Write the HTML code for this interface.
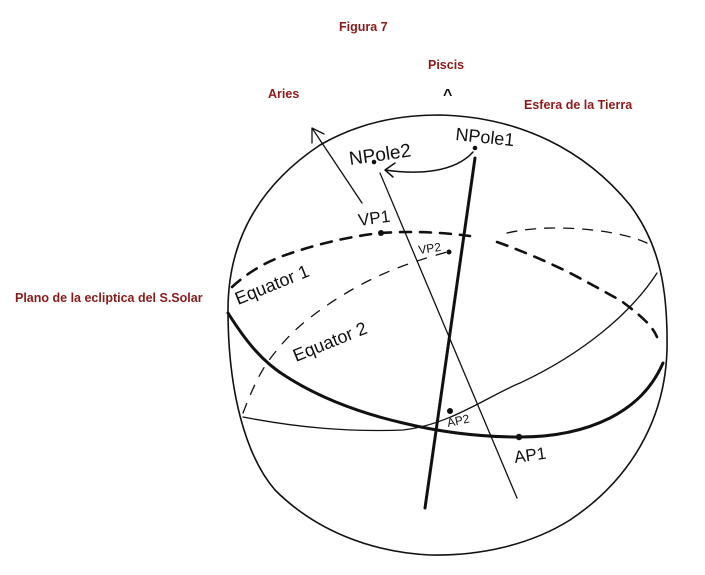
<!DOCTYPE html>
<html><head><style>
body{margin:0;width:705px;height:575px;background:#fff;overflow:hidden}
svg{display:block}
.r{font-family:"Liberation Sans",sans-serif;font-weight:bold;font-size:12.5px;fill:#8b1a1a}
.h{font-family:"Liberation Sans",sans-serif;fill:#111}
</style></head><body>
<svg width="705" height="575" viewBox="0 0 705 575">
<g fill="none" stroke="#111" stroke-linecap="round">
<path stroke-width="1.6" d="M228,310 C228,240 260,185 320,145 C360,122 400,115 440,115 C520,117 585,150 630,205 C660,245 668,290 667,350 C665,420 630,480 570,520 C530,545 480,556 430,555 C370,552 315,530 275,490 C245,455 228,390 228,310 Z"/>
<path stroke-width="3" d="M228,313 C245,340 262,362 287,377 C320,398 360,413 403,423 C440,432 480,437 520,437 C560,437 590,428 610,418 C635,405 652,388 663,363"/>
<path stroke-width="1.3" d="M243,417 C300,428 350,432 403,430 C450,425 490,395 520,383 C580,355 630,315 657,273"/>
<path stroke-width="1.3" stroke-dasharray="10,10" d="M243,413 C250,395 257,378 267,363 C280,345 292,332 307,320 C330,302 350,290 370,280 C395,268 412,262 447,252"/>
<path stroke-width="2.6" stroke-dasharray="11,9" d="M232,287 C245,275 260,265 280,257 C310,246 345,237 380,233 C410,231 440,232 470,236"/>
<path stroke-width="2.6" stroke-dasharray="11,9" d="M497,242 C520,250 548,262 570,273 C595,286 610,295 620,300 C640,315 652,325 657,337"/>
<path stroke-width="1.3" stroke-dasharray="10,9" d="M507,233 C520,230 537,228 553,228 C590,228 625,233 647,243"/>
<path stroke-width="1.3" d="M362,203 L312,128 M312,128 L312,143 M312,128 L324,134"/>
<path stroke-width="1.3" d="M380,173 L517,498"/>
<path stroke-width="3" d="M475,158 L425,508"/>
<path stroke-width="1.5" d="M473,152 C455,172 420,175 385,170 M385,170 L395,163 M385,170 L393,177"/>
</g>
<g fill="#111">
<circle cx="374" cy="162" r="2.3"/><circle cx="475" cy="148" r="2.3"/>
<circle cx="381" cy="233" r="3"/><circle cx="449" cy="252" r="2.5"/>
<circle cx="450" cy="411" r="3"/><circle cx="519" cy="437" r="3.2"/>
</g>
<text class="h" x="350" y="165" font-size="19" transform="rotate(-8 350 165)">NPole2</text>
<text class="h" x="455" y="140" font-size="18" transform="rotate(6 455 140)">NPole1</text>
<text class="h" x="359" y="226" font-size="17" transform="rotate(-8 359 226)">VP1</text>
<text class="h" x="419" y="254" font-size="12" transform="rotate(-8 419 254)">VP2</text>
<text class="h" x="238" y="305" font-size="18" transform="rotate(-22 238 305)">Equator 1</text>
<text class="h" x="296" y="362" font-size="18" transform="rotate(-22 296 362)">Equator 2</text>
<text class="h" x="448" y="427" font-size="12" transform="rotate(-12 448 427)">AP2</text>
<text class="h" x="515" y="463" font-size="17" transform="rotate(-8 515 463)">AP1</text>
<text class="r" x="339" y="31">Figura 7</text>
<text class="r" x="428" y="69">Piscis</text>
<text class="h" x="443" y="100" font-size="16" font-weight="bold">^</text>
<text class="r" x="268" y="98">Aries</text>
<text class="r" x="524" y="109">Esfera de la Tierra</text>
<text class="r" x="15" y="302">Plano de la ecliptica del S.Solar</text>
</svg>
</body></html>
